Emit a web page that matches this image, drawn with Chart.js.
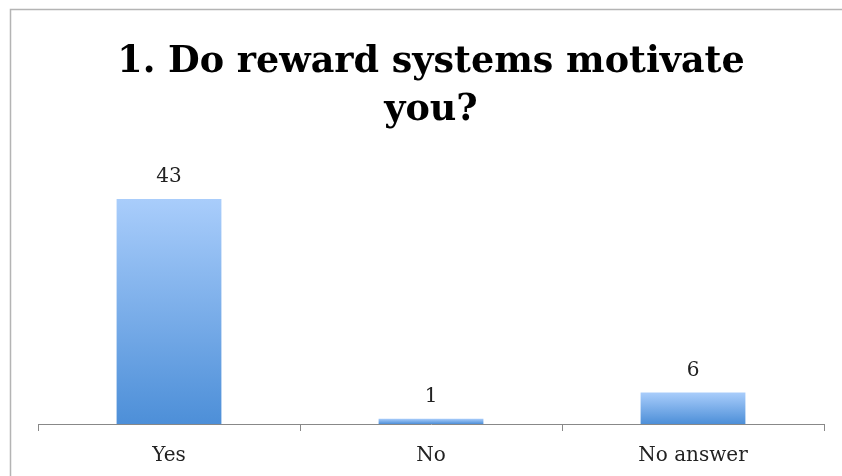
<!DOCTYPE html>
<html>
<head>
<meta charset="utf-8">
<script src="https://cdn.jsdelivr.net/npm/chart.js@4.4.1/dist/chart.umd.min.js"></script>
<style>
  html, body { margin: 0; padding: 0; background: #fff; }
  canvas { display: block; }
</style>
</head>
<body>
<canvas id="rewardChart" width="842" height="476"></canvas>
<script>
const categories = ['Yes', 'No', 'No answer'];
const answers = [43, 1, 6];
const titleLines = ['1. Do reward systems motivate', 'you?'];

// light blue at top of each bar fading to a deeper blue at the base
function barGradient(c) {
    const chart = c.chart;
    if (!chart.chartArea || c.type !== 'data') return '#6fa8ea';
    const y = chart.scales.y;
    const top = y.getPixelForValue(c.raw);
    const base = y.getPixelForValue(0);
    const g = chart.ctx.createLinearGradient(0, top, 0, base);
    g.addColorStop(0, '#a9cdfb');
    g.addColorStop(1, '#4d8fd8');
    return g;
}

const frame = {
    id: 'frame',
    beforeDraw(chart) {
        const ctx = chart.ctx;
        ctx.save();
        ctx.strokeStyle = '#b4b4b4';
        ctx.lineWidth = 1.5;
        ctx.strokeRect(10.5, 9.5, chart.width + 20, chart.height + 20);
        ctx.restore();
    }
};

const valueLabels = {
    id: 'valueLabels',
    afterDatasetsDraw(chart) {
        const ctx = chart.ctx;
        ctx.save();
        ctx.font = '20px "DejaVu Serif", serif';
        ctx.textAlign = 'center';
        ctx.textBaseline = 'alphabetic';
        ctx.fillStyle = '#222';
        chart.getDatasetMeta(0).data.forEach((bar, i) => {
            ctx.fillText(answers[i], bar.x, bar.y - 17);
        });
        ctx.restore();
    }
};

new Chart(document.getElementById('rewardChart'), {
    type: 'bar',
    data: {
        labels: categories,
        datasets: [{
            data: answers,
            backgroundColor: barGradient,
            barPercentage: 0.4,
            categoryPercentage: 1
        }]
    },
    options: {
        responsive: false,
        animation: false,
        layout: { padding: { left: 38, right: 18, top: 0, bottom: -5 } },
        plugins: {
            legend: { display: false },
            tooltip: { enabled: false },
            title: {
                display: true,
                text: titleLines,
                color: '#000',
                font: { family: '"DejaVu Serif", serif', size: 36.5, weight: 'bold', lineHeight: 1.32 },
                padding: { top: 38, bottom: 28 }
            }
        },
        scales: {
            x: {
                grid: { display: true, drawOnChartArea: false, tickLength: 7, color: '#888' },
                border: { display: true, color: '#888', width: 1 },
                ticks: {
                    color: '#222',
                    padding: 13,
                    font: { family: '"DejaVu Serif", serif', size: 20 }
                }
            },
            y: {
                display: false,
                min: 0,
                max: 50
            }
        }
    },
    plugins: [frame, valueLabels]
});
</script>
</body>
</html>
